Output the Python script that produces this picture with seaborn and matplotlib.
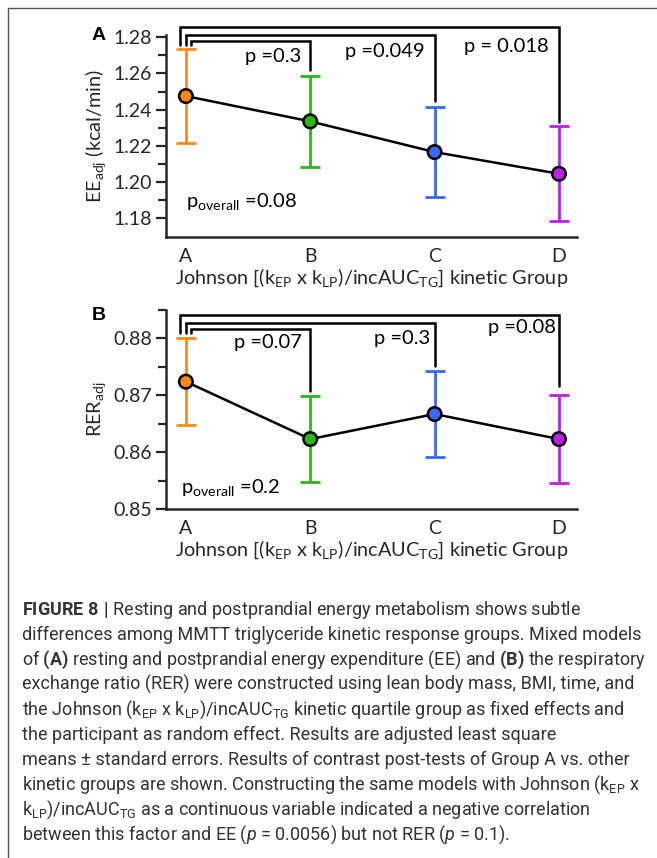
import numpy as np
import pandas as pd
import matplotlib
matplotlib.use("Agg")
import matplotlib.pyplot as plt
from matplotlib.lines import Line2D
from matplotlib import font_manager
import seaborn as sns

# ---------------- data ----------------
groups = ["A", "B", "C", "D"]
group_colors = ["#FF8A12", "#2DB51C", "#3A68F5", "#C21BF0"]

ee_mean = [1.2475, 1.2335, 1.2165, 1.2045]
ee_se = [0.0260, 0.0253, 0.0251, 0.0262]
ee_pvals = ["p =0.3", "p =0.049", "p = 0.018"]
ee_poverall = "0.08"

rer_mean = [0.8724, 0.8623, 0.8667, 0.8623]
rer_se = [0.0077, 0.0075, 0.0075, 0.0078]
rer_pvals = ["p =0.07", "p =0.3", "p =0.08"]
rer_poverall = "0.2"

yticks_ee = [1.18, 1.20, 1.22, 1.24, 1.26, 1.28]
yticks_rer = [0.85, 0.86, 0.87, 0.88]

# ---------------- style ----------------
sns.set_theme(style="ticks")
names = {f.name for f in font_manager.fontManager.ttflist}
chart_font = "Lato" if "Lato" in names else "DejaVu Sans"
cap_font = "Liberation Sans Narrow" if "Liberation Sans Narrow" in names else "Roboto"
plt.rcParams["font.family"] = [chart_font, "DejaVu Sans"]
plt.rcParams["mathtext.fontset"] = "custom"
plt.rcParams["mathtext.rm"] = chart_font
plt.rcParams["mathtext.sf"] = cap_font
plt.rcParams["mathtext.it"] = cap_font + ":italic"
plt.rcParams["mathtext.bf"] = cap_font + ":bold"

W, H = 657, 858
fig = plt.figure(figsize=(W / 100, H / 100), dpi=100)
fig.patch.set_facecolor("white")


def frac_rect(left, top, right, bottom):
    return [left / W, 1 - bottom / H, (right - left) / W, (bottom - top) / H]


ax1 = fig.add_axes(frac_rect(166, 35, 577, 237))
ax2 = fig.add_axes(frac_rect(166, 310, 577, 509))

xpos = np.arange(len(groups))
xlabel = r"Johnson [($\mathrm{k_{EP}}$ x $\mathrm{k_{LP}}$)/$\mathrm{incAUC_{TG}}$] kinetic Group"

TICK_FS = 14
LAB_FS = 14.3
P_FS = 14.5


def draw_panel(ax, means, ses, ylim, yticks, minor_step, ylabel, pvals,
               plabel_pos, bracket_y, bracket_end, left_end, poverall, pover_pos):
    df = pd.DataFrame({"x": xpos, "mean": means, "group": groups})
    for i in range(len(groups)):
        ax.errorbar(xpos[i], means[i], yerr=ses[i], fmt="none", ecolor=group_colors[i],
                    elinewidth=2.0, capsize=7.5, capthick=2.0, zorder=2)
    sns.lineplot(data=df, x="x", y="mean", color="black", linewidth=1.8, ax=ax,
                 zorder=3, legend=False)
    sns.scatterplot(data=df, x="x", y="mean", hue="group", palette=group_colors,
                    s=95, edgecolor="black", linewidth=1.8, ax=ax, zorder=4, legend=False)
    ax.set_xlim(-0.16, 3.145)
    ax.set_ylim(*ylim)
    ax.set_xticks(xpos)
    ax.set_xticklabels(groups, fontsize=TICK_FS)
    ax.tick_params(axis="x", length=0, pad=8)
    ax.set_yticks(yticks)
    ax.set_yticklabels(["{:.2f}".format(v) for v in yticks], fontsize=TICK_FS)
    ax.set_yticks(np.arange(yticks[0], ylim[1] + 1e-9, minor_step), minor=True)
    ax.tick_params(axis="y", which="major", length=7, width=1.6, direction="out", pad=3)
    ax.tick_params(axis="y", which="minor", length=6, width=1.6, direction="out")
    for s in ["top", "right"]:
        ax.spines[s].set_visible(False)
    for s in ["left", "bottom"]:
        ax.spines[s].set_linewidth(1.8)
    ax.set_xlabel(xlabel, fontsize=LAB_FS, labelpad=1)
    ax.set_ylabel(ylabel, fontsize=LAB_FS, labelpad=4)
    ax.set_facecolor("white")

    # comparison brackets (group A vs others)
    offsets = [0.045, 0.0, -0.045]
    for k, j in enumerate([1, 2, 3]):
        xs = [xpos[0] + offsets[k], xpos[0] + offsets[k], xpos[j], xpos[j]]
        ys = [left_end, bracket_y[k], bracket_y[k], bracket_end[k]]
        ax.plot(xs, ys, color="black", linewidth=1.8, clip_on=False, zorder=5,
                solid_joinstyle="miter")
        ax.text(plabel_pos[k][0], plabel_pos[k][1], pvals[k], fontsize=P_FS,
                ha="center", va="baseline", color="black")
    ax.text(pover_pos[0], pover_pos[1], r"$\mathrm{p_{overall}}$ =" + poverall,
            fontsize=P_FS, ha="left", va="baseline", color="black")


draw_panel(ax1, ee_mean, ee_se, (1.1695, 1.2813), yticks_ee, 0.01,
           r"$\mathrm{EE_{adj}}$ (kcal/min)", ee_pvals,
           [(0.70, 1.2665), (1.60, 1.2690), (2.58, 1.2721)],
           [1.2780, 1.2813, 1.2855], [1.2620, 1.2450, 1.2330], 1.2755,
           ee_poverall, (0.0, 1.1863))
draw_panel(ax2, rer_mean, rer_se, (0.85, 0.885), yticks_rer, 0.005,
           r"$\mathrm{RER_{adj}}$", rer_pvals,
           [(0.66, 0.87826), (1.74, 0.87902), (2.70, 0.8809)],
           [0.8816, 0.8827, 0.8841], [0.8708, 0.8751, 0.8716], 0.8809,
           rer_poverall, (-0.04, 0.8528))

# panel letters
for letter, ypx in [("A", 35), ("B", 315)]:
    fig.text(99 / W, 1 - ypx / H, letter, fontsize=14, fontweight="bold",
             family="Liberation Sans", ha="center", va="center", color="black")

# frame lines (top and left)
fig.add_artist(Line2D([8 / W, 8 / W], [0, 1 - 8 / H], color="#555555", linewidth=1.0))
fig.add_artist(Line2D([8 / W, 1], [1 - 8 / H, 1 - 8 / H], color="#555555", linewidth=1.0))

# caption
cap_lines = [
    r"$\mathbf{FIGURE\ 8\ |}$ Resting and postprandial energy metabolism shows subtle",
    r"differences among MMTT triglyceride kinetic response groups. Mixed models",
    r"of $\mathbf{(A)}$ resting and postprandial energy expenditure (EE) and $\mathbf{(B)}$ the respiratory",
    r"exchange ratio (RER) were constructed using lean body mass, BMI, time, and",
    r"the Johnson ($\mathsf{k_{EP}}$ x $\mathsf{k_{LP}}$)/$\mathsf{incAUC_{TG}}$ kinetic quartile group as fixed effects and",
    r"the participant as random effect. Results are adjusted least square",
    "means \u00b1 standard errors. Results of contrast post-tests of Group A vs. other",
    r"kinetic groups are shown. Constructing the same models with Johnson ($\mathsf{k_{EP}}$ x",
    r"$\mathsf{k_{LP}}$)/$\mathsf{incAUC_{TG}}$ as a continuous variable indicated a negative correlation",
    r"between this factor and EE ($\mathit{p}$ = 0.0056) but not RER ($\mathit{p}$ = 0.1).",
]

# fit caption size so that line 2 spans ~618 px
probe = fig.text(22 / W, 0.5, cap_lines[1], fontsize=12, family=cap_font)
fig.canvas.draw()
wpx = probe.get_window_extent().width
probe.remove()
cap_size = 12 * 618 / wpx

for i, line in enumerate(cap_lines):
    fig.text(22 / W, 1 - (615 + 25 * i) / H, line, fontsize=cap_size, family=cap_font,
             color="#333333", ha="left", va="baseline")

fig.savefig("out.png", dpi=100, facecolor="white")
